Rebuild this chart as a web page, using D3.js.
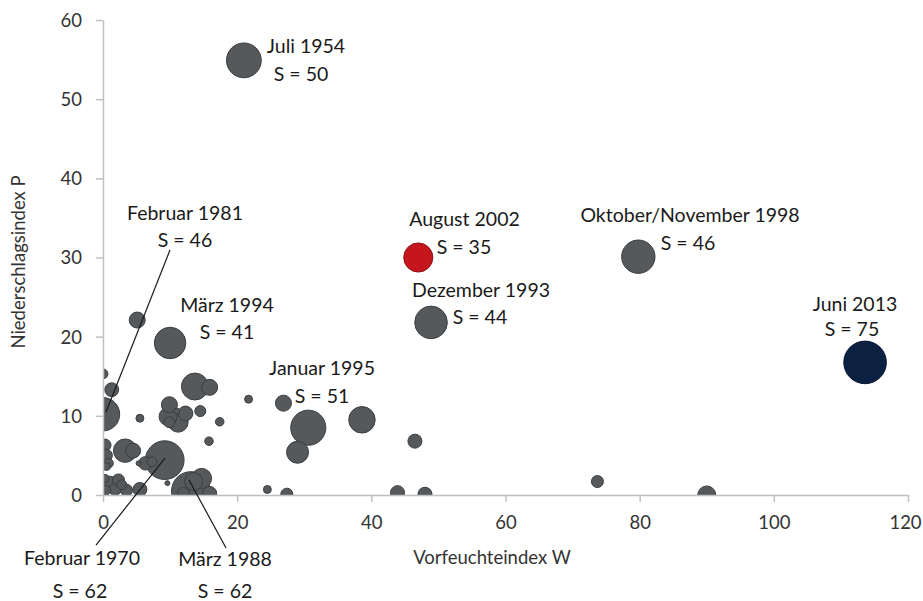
<!DOCTYPE html>
<html><head><meta charset="utf-8">
<script src="https://cdn.jsdelivr.net/npm/d3@7"></script>
<style>html,body{margin:0;padding:0;background:#fff;}</style>
</head><body>
<svg id="c" width="923" height="601"></svg>
<script>
// ---- data ----
const xTicks = [0, 20, 40, 60, 80, 100, 120];
const yTicks = [0, 10, 20, 30, 40, 50, 60];

// unlabelled events: Vorfeuchteindex W, Niederschlagsindex P, Schwere S
const bgW = [0.0, 1.3, 5.1, 5.5, 13.7, 15.9, 21.7, 9.9, 11.0, 12.3, 14.5, 9.7, 9.9, 11.2, 17.4, 15.8, 26.9, 29.0, 38.6, 46.5, 24.5, 27.4, 43.9, 48.0, 73.7, 90.0, 3.3, 4.5, 6.3, 5.3, 7.3, 9.6, 5.5, 1.0, 1.8, 2.8, 3.5, 0.4, 2.3, 0.3, 0.3, 0.5, 0.8, 0.5, 14.7, 13.5, 15.9, 12.0];
const bgP = [15.3, 13.3, 22.1, 9.7, 13.7, 13.6, 12.1, 11.4, 10.6, 10.3, 10.6, 9.9, 9.2, 9.2, 9.25, 6.8, 11.6, 5.4, 9.5, 6.8, 0.7, 0.1, 0.3, 0.1, 1.7, 0.0, 5.6, 5.6, 4.0, 4.0, 4.2, 1.5, 0.7, 1.5, 0.7, 1.3, 0.6, 0.6, 1.9, 2.1, 6.3, 5.0, 4.0, 3.6, 2.1, 1.7, 0.2, 0.2];
const bgS = [4, 8, 10.6, 2.6, 30, 10.6, 2.6, 10.6, 1.5, 9, 5, 13.4, 5, 16.5, 3, 3, 10.6, 20, 29, 8.1, 2.6, 6, 8.1, 8.1, 6, 13.4, 22.6, 9, 7.4, 1, 4, 1, 8.1, 8.1, 6, 4, 6, 4, 6, 2.6, 6, 6, 4, 2.6, 16.5, 13.4, 8.1, 6];

// labelled events
const evName = ["Juli 1954", "Februar 1981", "März 1994", "Januar 1995", "August 2002", "Oktober/November 1998", "Dezember 1993", "Juni 2013", "Februar 1970", "März 1988"];
const evW = [21.0, 0.0, 10.0, 30.6, 47.0, 79.8, 48.9, 113.6, 9.2, 13.1];
const evP = [54.9, 10.2, 19.2, 8.5, 30.0, 30.1, 21.8, 16.75, 4.4, 0.5];
const evS = [50, 46, 41, 51, 35, 46, 44, 75, 62, 62];
const evKind = ["grey", "grey", "grey", "grey", "red", "grey", "grey", "navy", "grey", "grey"];

// ---- layout (annotation anchors in data units) ----
const labelPos = [
  [[30.26, 56.72], [29.52, 53.1]],
  [[12.22, 35.62], [12.22, 32.21]],
  [[18.48, 24.0], [18.48, 20.59]],
  [[32.65, 16.04], [32.65, 12.5]],
  [[53.89, 34.86], [53.81, 31.33]],
  [[87.51, 35.37], [87.21, 31.83]],
  [[56.35, 25.89], [56.2, 22.48]],
  [[112.1, 24.13], [111.65, 20.97]],
  [[-3.13, -7.96], [-3.43, -12.2]],
  [[18.19, -8.08], [18.19, -12.2]]
];
const leaders = [
  [[9.99, 30.95], [0.45, 10.48]],
  [[9.24, 4.67], [-1.04, -6.32]],
  [[12.82, 1.89], [18.34, -6.69]]
];

const colors = {grey: "#56595b", red: "#c4161c", navy: "#0c2141"};
const stroke = {grey: "#3b3d3f", red: "#8a1014", navy: "#081530"};
const FONT = "Lato, 'Open Sans', sans-serif";

const svg = d3.select("#c");
const x = d3.scaleLinear().domain([0, 120]).range([103, 908]);
const y = d3.scaleLinear().domain([0, 60]).range([495, 20]);
const r = d3.scaleSqrt().domain([0, 75]).range([0, 21.3]);

svg.append("defs").append("clipPath").attr("id", "plot")
  .append("rect").attr("x", x(0)).attr("y", 0).attr("width", 923 - x(0)).attr("height", y(0));

// bubbles
const pts = [];
bgW.forEach((w, i) => pts.push({w, p: bgP[i], s: bgS[i], kind: "grey"}));
evW.forEach((w, i) => pts.push({w, p: evP[i], s: evS[i], kind: evKind[i]}));
pts.sort((a, b) => b.s - a.s);

svg.append("g").attr("clip-path", "url(#plot)")
  .selectAll("circle").data(pts).join("circle")
  .attr("cx", d => x(d.w)).attr("cy", d => y(d.p)).attr("r", d => r(d.s))
  .attr("fill", d => colors[d.kind]).attr("stroke", d => stroke[d.kind]).attr("stroke-width", 1);

// axes
const gx = svg.append("g").attr("transform", `translate(0,${y(0)})`)
  .call(d3.axisBottom(x).tickValues(xTicks).tickSize(7).tickSizeOuter(0));
const gy = svg.append("g").attr("transform", `translate(${x(0)},0)`)
  .call(d3.axisLeft(y).tickValues(yTicks).tickSize(7).tickSizeOuter(0));
[gx, gy].forEach(g => {
  g.select(".domain").attr("stroke", "#c0c0c0").attr("stroke-width", 1.5);
  g.selectAll(".tick line").attr("stroke", "#c0c0c0").attr("stroke-width", 1.5);
  g.selectAll(".tick text").attr("font-family", FONT).attr("font-size", 18.5).attr("fill", "#333");
});
gx.selectAll(".tick text").attr("y", 28).attr("dy", "0.35em")
  .attr("x", d => d === 120 ? -3 : 0);
gy.selectAll(".tick text").attr("x", -21).attr("dy", "0.35em");

// leader lines
svg.append("g").selectAll("line").data(leaders).join("line")
  .attr("x1", d => x(d[0][0])).attr("y1", d => y(d[0][1]))
  .attr("x2", d => x(d[1][0])).attr("y2", d => y(d[1][1]))
  .attr("stroke", "#1a1a1a").attr("stroke-width", 1.2);

// labels
const lab = [];
evName.forEach((n, i) => {
  lab.push({t: n, pos: labelPos[i][0]});
  lab.push({t: "S = " + evS[i], pos: labelPos[i][1]});
});
svg.append("g").selectAll("text").data(lab).join("text")
  .attr("x", d => x(d.pos[0])).attr("y", d => y(d.pos[1])).attr("dy", "0.35em")
  .attr("text-anchor", "middle").attr("font-family", FONT).attr("font-size", 19.5)
  .attr("fill", "#1a1a1a").text(d => d.t);

// axis titles
svg.append("text").attr("x", 492).attr("y", 558).attr("dy", "0.35em")
  .attr("text-anchor", "middle").attr("font-family", FONT).attr("font-size", 18.5)
  .attr("fill", "#333").text("Vorfeuchteindex W");
svg.append("text").attr("transform", "translate(19,262) rotate(-90)").attr("dy", "0.35em")
  .attr("text-anchor", "middle").attr("font-family", FONT).attr("font-size", 18.5)
  .attr("fill", "#333").text("Niederschlagsindex P");
</script>
</body></html>
